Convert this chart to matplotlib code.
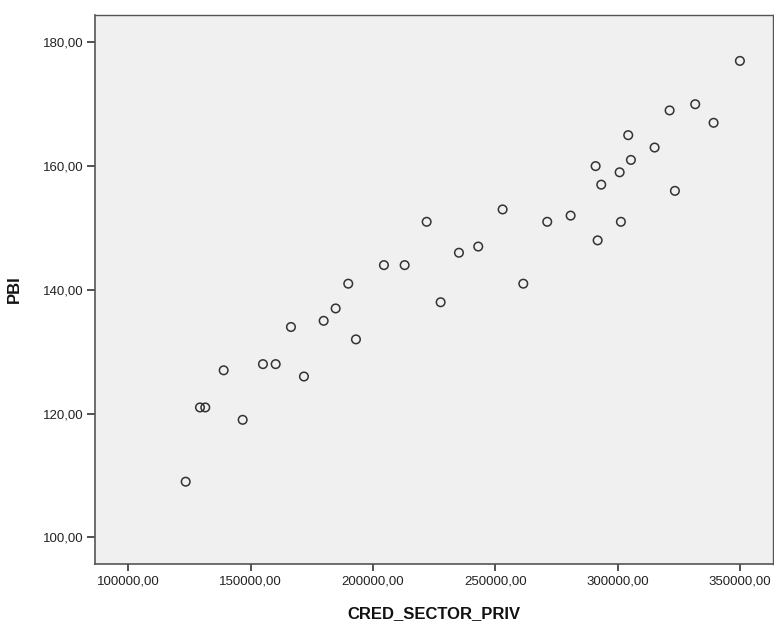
import matplotlib
matplotlib.use("Agg")
import matplotlib.pyplot as plt
from matplotlib.ticker import FixedLocator, FuncFormatter

plt.rcParams['font.family'] = ['Liberation Sans', 'DejaVu Sans']

cred_sector_priv = [123450, 129290, 131450, 138970, 146730, 155020, 160210, 166460,
                    171770, 179820, 184720, 189870, 193010, 204450, 212910, 221900,
                    227610, 235090, 242970, 252940, 261380, 271160, 280720, 290930,
                    291750, 293230, 300740, 301260, 304250, 305350, 315030, 321160,
                    323330, 331620, 339130, 349880]
pbi = [109, 121, 121, 127, 119, 128, 128, 134,
       126, 135, 137, 141, 132, 144, 144, 151,
       138, 146, 147, 153, 141, 151, 152, 160,
       148, 157, 159, 151, 165, 161, 163, 169,
       156, 170, 167, 177]

x_ticks = [100000, 150000, 200000, 250000, 300000, 350000]
y_ticks = [100, 120, 140, 160, 180]

fig = plt.figure(figsize=(7.74, 6.23), dpi=100)
ax = fig.add_axes([95/774, (623-564)/623, 678/774, 549.5/623])
ax.set_facecolor('#F0F0F0')

ax.scatter(cred_sector_priv, pbi, s=38, facecolors='none', edgecolors='#333333',
           linewidths=1.1, zorder=3)

ax.set_xlim(86400, 363400)
ax.set_ylim(95.7, 184.5)

fmt = FuncFormatter(lambda v, p: f"{v:.2f}".replace('.', ','))
ax.xaxis.set_major_locator(FixedLocator(x_ticks))
ax.yaxis.set_major_locator(FixedLocator(y_ticks))
ax.xaxis.set_major_formatter(fmt)
ax.yaxis.set_major_formatter(fmt)

ax.tick_params(axis='x', length=5, width=1.2, color='#333333', pad=3,
               labelsize=9.5, labelcolor='#222222')
ax.tick_params(axis='y', length=6, width=1.2, color='#333333', pad=2,
               labelsize=9.5, labelcolor='#222222')

for side in ['left', 'bottom', 'top', 'right']:
    ax.spines[side].set_color('#555555')
    ax.spines[side].set_linewidth(1.0)
ax.spines['left'].set_linewidth(1.2)
ax.spines['bottom'].set_linewidth(1.2)

ax.set_xlabel('CRED_SECTOR_PRIV', fontsize=12, fontweight='bold', color='#111111')
ax.set_ylabel('PBI', fontsize=12, fontweight='bold', color='#111111')
ax.xaxis.set_label_coords(0.5, -0.0764)
ax.yaxis.set_label_coords(-0.1077, 0.5)

fig.savefig('out.png', dpi=100, facecolor='white')
